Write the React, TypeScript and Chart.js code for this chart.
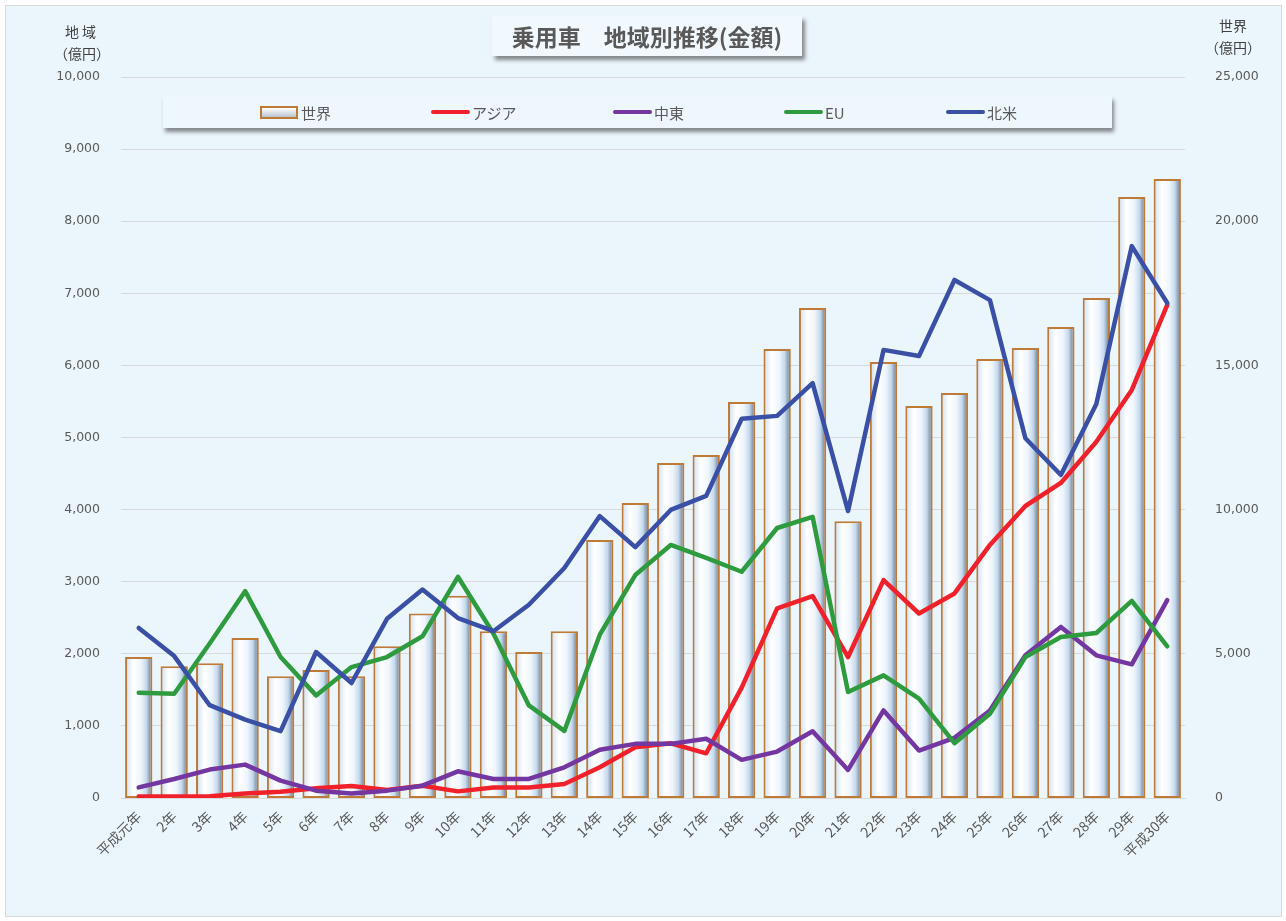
import React, { useEffect, useRef } from "react";
import { Chart, registerables } from "chart.js";

Chart.register(...registerables);

const categories = [
  "平成元年", "2年", "3年", "4年", "5年", "6年", "7年", "8年", "9年", "10年",
  "11年", "12年", "13年", "14年", "15年", "16年", "17年", "18年", "19年", "20年",
  "21年", "22年", "23年", "24年", "25年", "26年", "27年", "28年", "29年", "平成30年",
];

// 世界 (right axis, 億円)
const world = [
  4890, 4570, 4670, 5550, 4220, 4440, 4220, 5260, 6400, 7010,
  5780, 5060, 5780, 8950, 10230, 11620, 11890, 13730, 15570, 16990,
  9600, 15120, 13590, 14040, 15220, 15600, 16330, 17340, 20840, 21460,
];

// left axis, 億円
const asia = [
  20, 20, 25, 64, 88, 134, 167, 111, 171, 92,
  147, 147, 195, 426, 704, 759, 620, 1530, 2629, 2800,
  1955, 3022, 2559, 2837, 3510, 4050, 4370, 4940, 5660, 6840,
];
const middleEast = [
  147, 264, 394, 463, 241, 102, 64, 102, 171, 370,
  264, 264, 426, 668, 751, 751, 821, 529, 644, 926,
  389, 1214, 658, 834, 1214, 1979, 2373, 1979, 1854, 2744,
];
const eu = [
  1460, 1446, 2142, 2869, 1955, 1423, 1816, 1955, 2243, 3068,
  2281, 1284, 930, 2265, 3092, 3510, 3330, 3138, 3745, 3900,
  1469, 1701, 1377, 760, 1168, 1955, 2234, 2289, 2734, 2104,
];
const northAmerica = [
  2358, 1968, 1287, 1088, 928, 2025, 1595, 2485, 2892, 2495,
  2313, 2680, 3190, 3910, 3480, 3995, 4190, 5260, 5300, 5755,
  3980, 6215, 6130, 7185, 6905, 4990, 4480, 5465, 7655, 6865,
];

const leftTicks = { min: 0, max: 10000, step: 1000 };
const rightTicks = { min: 0, max: 25000, step: 5000 };

const COLORS = {
  asia: "#F0212B",
  me: "#7436A0",
  eu: "#2E9B3F",
  na: "#3A4FA6",
  barBorder: "#C07A38",
  text: "#595959",
  grid: "#D9D9D9",
};

const legendItems = [
  { label: "世界", left: 260, type: "bar", color: COLORS.barBorder },
  { label: "アジア", left: 431, type: "line", color: COLORS.asia },
  { label: "中東", left: 613, type: "line", color: COLORS.me },
  { label: "EU", left: 784, type: "line", color: COLORS.eu },
  { label: "北米", left: 946, type: "line", color: COLORS.na },
];

const fmt = (v: number) => v.toLocaleString("en-US");

export default function App() {
  const canvasRef = useRef<HTMLCanvasElement | null>(null);

  useEffect(() => {
    const canvas = canvasRef.current;
    if (!canvas) return;
    const BAR_PCT = 0.77;
    const lineDs = (label: string, data: number[], color: string, order: number) => ({
      type: "line",
      label,
      data,
      yAxisID: "y",
      borderColor: color,
      backgroundColor: color,
      borderWidth: 4.5,
      pointRadius: 0,
      tension: 0,
      borderJoinStyle: "round",
      borderCapStyle: "round",
      order,
    });
    const chart = new Chart(canvas, {
      type: "bar",
      data: {
        labels: categories,
        datasets: [
          lineDs("北米", northAmerica, COLORS.na, 1),
          lineDs("EU", eu, COLORS.eu, 2),
          lineDs("中東", middleEast, COLORS.me, 3),
          lineDs("アジア", asia, COLORS.asia, 4),
          {
            type: "bar",
            label: "世界",
            data: world,
            yAxisID: "y1",
            borderColor: COLORS.barBorder,
            borderWidth: 2,
            borderSkipped: false,
            barPercentage: BAR_PCT,
            categoryPercentage: 1,
            order: 5,
            backgroundColor: (ctx: any) => {
              const c = ctx.chart;
              const xs = c.scales && c.scales.x;
              if (!c.chartArea || !xs || ctx.dataIndex === undefined) return "#ffffff";
              const cx = xs.getPixelForValue(ctx.dataIndex);
              const w = (xs.width / categories.length) * BAR_PCT;
              const g = c.ctx.createLinearGradient(cx - w / 2, 0, cx + w / 2, 0);
              g.addColorStop(0, "#A3B0BE");
              g.addColorStop(0.1, "#DCE9F4");
              g.addColorStop(0.3, "#FFFFFF");
              g.addColorStop(0.58, "#EEF5FC");
              g.addColorStop(0.78, "#C4D9EC");
              g.addColorStop(0.9, "#8E9EB2");
              g.addColorStop(1, "#66727F");
              return g;
            },
          },
        ],
      },
      options: {
        responsive: false,
        animation: false,
        layout: { padding: { top: 77, left: 0, right: 0, bottom: 0 } },
        plugins: {
          legend: { display: false },
          title: { display: false },
          tooltip: { enabled: false },
        },
        scales: {
          x: {
            type: "category",
            grid: { display: false },
            border: { display: true, color: COLORS.grid, width: 1 },
            ticks: {
              maxRotation: 45,
              minRotation: 45,
              autoSkip: false,
              padding: 2,
              color: COLORS.text,
              font: { family: "'Noto Sans CJK JP', 'Noto Sans', sans-serif", size: 14 },
            },
            afterFit: (s: any) => {
              s.height = 123;
            },
          },
          y: {
            position: "left",
            min: leftTicks.min,
            max: leftTicks.max,
            grid: { color: COLORS.grid, drawTicks: false, lineWidth: 1 },
            border: { display: false },
            ticks: {
              stepSize: leftTicks.step,
              padding: 21,
              color: COLORS.text,
              font: { family: "'DejaVu Sans', sans-serif", size: 12.5 },
              callback: (v: any) => fmt(Number(v)),
            },
            afterFit: (s: any) => {
              s.width = 121;
            },
          },
          y1: {
            position: "right",
            min: rightTicks.min,
            max: rightTicks.max,
            grid: { display: false },
            border: { display: false },
            ticks: {
              stepSize: rightTicks.step,
              padding: 22,
              color: COLORS.text,
              font: { family: "'DejaVu Sans', sans-serif", size: 12.5 },
              callback: (v: any) => fmt(Number(v)),
            },
            afterFit: (s: any) => {
              s.width = 101;
            },
          },
        },
      } as any,
    });
    return () => chart.destroy();
  }, []);

  const jp = "'Noto Sans CJK JP', 'Noto Sans', sans-serif";

  return (
    <div
      style={{
        position: "absolute",
        left: 0,
        top: 0,
        width: 1286,
        height: 921,
        background: "#ffffff",
        overflow: "hidden",
        fontFamily: jp,
      }}
    >
      <div
        style={{
          position: "absolute",
          left: 5,
          top: 5,
          width: 1275,
          height: 910,
          background: "#EBF6FC",
          border: "1px solid #D9D9D9",
        }}
      />
      <canvas
        ref={canvasRef}
        width={1286}
        height={921}
        style={{ position: "absolute", left: 0, top: 0, width: 1286, height: 921 }}
      />
      {/* Title */}
      <div
        style={{
          position: "absolute",
          left: 492,
          top: 16,
          width: 310,
          height: 40,
          background: "#F2F9FE",
          boxShadow: "3px 4px 4px rgba(0,0,0,0.45)",
          display: "flex",
          alignItems: "center",
          justifyContent: "center",
          color: "#595959",
          fontWeight: 700,
          fontSize: 23,
          whiteSpace: "nowrap",
        }}
      >
        乗用車　地域別推移(金額)
      </div>
      {/* Axis titles */}
      <div
        style={{
          position: "absolute",
          left: 50,
          top: 20,
          width: 64,
          textAlign: "center",
          color: "#404040",
          fontSize: 14,
          lineHeight: "22px",
        }}
      >
        <div style={{ letterSpacing: 3 }}>地域</div>
        <div>（億円）</div>
      </div>
      <div
        style={{
          position: "absolute",
          left: 1200,
          top: 14,
          width: 66,
          textAlign: "center",
          color: "#404040",
          fontSize: 14,
          lineHeight: "22px",
        }}
      >
        <div>世界</div>
        <div>（億円）</div>
      </div>
      {/* Legend */}
      <div
        style={{
          position: "absolute",
          left: 163,
          top: 96,
          width: 949,
          height: 32,
          background: "#EEF7FD",
          boxShadow: "2px 4px 4px rgba(0,0,0,0.45)",
        }}
      >
        {legendItems.map((it) => (
          <div
            key={it.label}
            style={{
              position: "absolute",
              left: it.left - 163,
              top: 0,
              height: 32,
              display: "flex",
              alignItems: "center",
              color: "#595959",
              fontSize: 15,
              whiteSpace: "nowrap",
            }}
          >
            {it.type === "bar" ? (
              <span
                style={{
                  display: "inline-block",
                  width: 34,
                  height: 9,
                  border: `2px solid ${it.color}`,
                  background: "linear-gradient(#ffffff, #B9C4D0)",
                  marginRight: 3,
                }}
              />
            ) : (
              <span
                style={{
                  display: "inline-block",
                  width: 39,
                  height: 4,
                  borderRadius: 2,
                  background: it.color,
                  marginRight: 2,
                }}
              />
            )}
            <span>{it.label}</span>
          </div>
        ))}
      </div>
    </div>
  );
}
